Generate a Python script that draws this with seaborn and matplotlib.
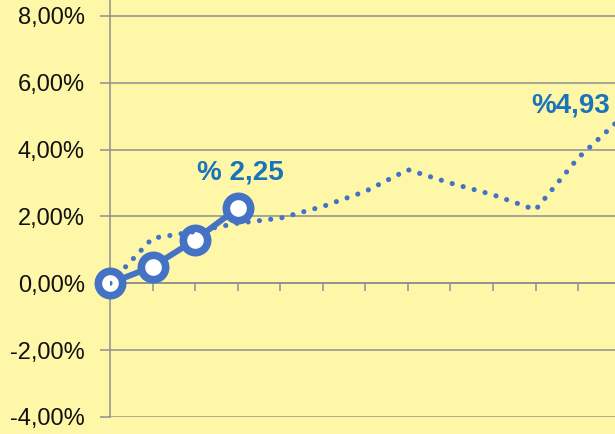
import matplotlib
matplotlib.use("Agg")
import matplotlib.pyplot as plt
import seaborn as sns
import pandas as pd

# Data (percent)
periods_solid = [0, 1, 2, 3]
values_solid = [0.0, 0.5, 1.3, 2.25]
periods_dotted = [0, 1, 2, 3, 4, 5, 6, 7, 8, 9, 10, 11, 12]
values_dotted = [0.0, 1.35, 1.55, 1.8, 1.95, 2.3, 2.75, 3.4, 3.0, 2.65, 2.2, 3.75, 4.93]
y_ticks = [-4, -2, 0, 2, 4, 6, 8]
y_tick_labels = ["-4,00%", "-2,00%", "0,00%", "2,00%", "4,00%", "6,00%", "8,00%"]
label_solid = "% 2,25"
label_dotted = "%4,93"

BG = "#FFF7A8"
BLUE = "#4472C4"
LBLUE = "#1A74BA"
GRID = "#8E8E8E"

sns.set_theme(style="white")
plt.rcParams["font.family"] = ["Liberation Sans", "DejaVu Sans"]

fig = plt.figure(figsize=(6.15, 4.34), dpi=100)
fig.patch.set_facecolor(BG)
W, H = 615, 434
x0, xstep = 110, 42.55
ybot, ytop_px = 417, 0
ax = fig.add_axes([x0 / W, (H - ybot) / H, 13 * xstep / W, (ybot - ytop_px) / H])
ax.set_facecolor(BG)
ax.set_xlim(0, 13)
ax.set_ylim(-4, 8 + 16 / 33.45)

# horizontal grid
for yv in y_ticks[1:]:
    ax.axhline(yv, color=GRID, lw=1.1, zorder=1)
ax.axhline(-4, color="#9A9870", lw=1.8, zorder=1)

for s in ["top", "right"]:
    ax.spines[s].set_visible(False)
ax.spines["left"].set_color(GRID)
ax.spines["left"].set_linewidth(1.1)
ax.spines["bottom"].set_position(("data", 0))
ax.spines["bottom"].set_color(GRID)
ax.spines["bottom"].set_linewidth(1.1)

ax.set_xticks(periods_dotted)
ax.set_xticklabels([])
ax.tick_params(axis="x", bottom=True, direction="out", length=6, width=1.1, color=GRID)
ax.set_yticks(y_ticks)
ax.set_yticklabels(y_tick_labels)
ax.tick_params(axis="y", left=True, direction="out", length=7, width=1.1, color=GRID,
               labelsize=17, labelcolor="#111111", pad=11)

df_s = pd.DataFrame({"x": periods_solid, "y": values_solid})
df_d = pd.DataFrame({"x": periods_dotted, "y": values_dotted})

sns.lineplot(data=df_s, x="x", y="y", ax=ax, color=BLUE, lw=4.3, marker="o",
             markersize=17.5, markeredgewidth=5.5, markerfacecolor="white",
             markeredgecolor=BLUE, zorder=3, clip_on=False)
sns.lineplot(data=df_d, x="x", y="y", ax=ax, color=BLUE, lw=3.7,
             linestyle=(0, (0.01, 2.2)), dash_capstyle="round", zorder=4,
             clip_on=True)
ax.set_xlabel("")
ax.set_ylabel("")

ax.annotate(label_solid, xy=(periods_solid[-1], values_solid[-1]),
            xytext=(3, 36), textcoords="offset pixels", ha="center", va="center",
            fontsize=20, fontweight="bold", color=LBLUE, zorder=5)
ax.annotate(label_dotted, xy=(periods_dotted[-1], values_dotted[-1]),
            xytext=(-50, 13), textcoords="offset pixels", ha="center", va="center",
            fontsize=20, fontweight="bold", color=LBLUE, zorder=5)

fig.savefig("out.png", dpi=100, facecolor=BG)
